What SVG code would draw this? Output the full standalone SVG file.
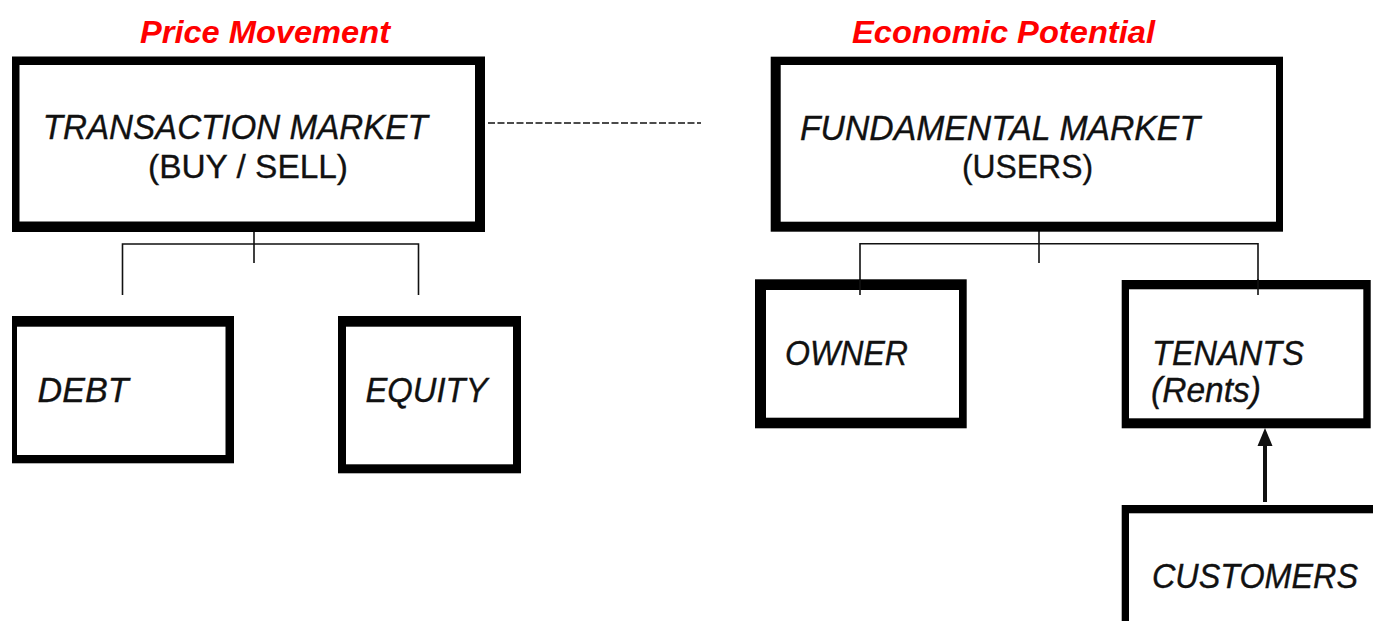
<svg xmlns="http://www.w3.org/2000/svg" width="1373" height="621" viewBox="0 0 1373 621">
  <style>
    .frame { fill: #000; }
    .inner { fill: #fff; }
    .head { font-family: "Liberation Sans", Arial, sans-serif; font-size: 32px; font-weight: bold; font-style: italic; fill: #f00; }
    .lbl { font-family: "Liberation Sans", Arial, sans-serif; font-size: 35px; font-style: italic; fill: #111; stroke: #111; stroke-width: 0.35; }
    .sub { font-family: "Liberation Sans", Arial, sans-serif; font-size: 34px; fill: #111; stroke: #111; stroke-width: 0.35; }
    .link { fill: none; stroke: #111; stroke-width: 1.6; }
    .dash { fill: none; stroke: #111; stroke-width: 1.6; stroke-dasharray: 7 2.5; }
    .arrow { fill: none; stroke: #111; stroke-width: 4; }
  </style>

  <rect x="0" y="0" width="1373" height="621" fill="#fff"/>

  <!-- section headings -->
  <text class="head" x="140" y="42.5" textLength="250" lengthAdjust="spacingAndGlyphs">Price Movement</text>
  <text class="head" x="852" y="42.5" textLength="303" lengthAdjust="spacingAndGlyphs">Economic Potential</text>

  <!-- connectors -->
  <g id="connectors">
    <line class="dash" x1="488" y1="123" x2="701" y2="123"/>
    <path class="link" d="M254,219 V263 M122.5,295 V244 H418.5 V295"/>
    <path class="link" d="M1039,188 V263 M860,295 V243.7 H1258 V295"/>
    <line class="arrow" x1="1265" y1="444" x2="1265" y2="502"/>
    <polygon points="1265,428 1257.5,446 1272.5,446" fill="#111"/>
  </g>

  <g id="transaction-market">
    <rect class="frame" x="12" y="56.5" width="473" height="175.5"/>
    <rect class="inner" x="19.5" y="65" width="455.5" height="156.5"/>
    <text class="lbl" x="42.7" y="139.3" textLength="385" lengthAdjust="spacingAndGlyphs">TRANSACTION MARKET</text>
    <text class="sub" x="148" y="178" textLength="200" lengthAdjust="spacingAndGlyphs">(BUY / SELL)</text>
  </g>

  <g id="fundamental-market">
    <rect class="frame" x="770.7" y="56.7" width="512.3" height="175"/>
    <rect class="inner" x="780.7" y="65" width="495.3" height="156.7"/>
    <text class="lbl" x="800" y="140" textLength="400" lengthAdjust="spacingAndGlyphs">FUNDAMENTAL MARKET</text>
    <text class="sub" x="962" y="178" textLength="131" lengthAdjust="spacingAndGlyphs">(USERS)</text>
  </g>

  <g id="debt">
    <rect class="frame" x="12" y="316" width="222" height="147.3"/>
    <rect class="inner" x="17" y="326.7" width="208.5" height="128.3"/>
    <text class="lbl" x="37.5" y="401.7" textLength="91" lengthAdjust="spacingAndGlyphs">DEBT</text>
  </g>

  <g id="equity">
    <rect class="frame" x="338" y="316" width="183" height="157.3"/>
    <rect class="inner" x="346" y="326.7" width="167" height="137.6"/>
    <text class="lbl" x="365.5" y="401.7" textLength="122" lengthAdjust="spacingAndGlyphs">EQUITY</text>
  </g>

  <g id="owner">
    <rect class="frame" x="755" y="279.3" width="211.7" height="149"/>
    <rect class="inner" x="766" y="290" width="193" height="127.7"/>
    <text class="lbl" x="785" y="365" textLength="123" lengthAdjust="spacingAndGlyphs">OWNER</text>
  </g>

  <g id="tenants">
    <rect class="frame" x="1121.7" y="280" width="249" height="148.3"/>
    <rect class="inner" x="1129" y="289.3" width="234.3" height="129"/>
    <text class="lbl" x="1152" y="365" textLength="152" lengthAdjust="spacingAndGlyphs">TENANTS</text>
    <text class="lbl" x="1151" y="401.7" textLength="110" lengthAdjust="spacingAndGlyphs">(Rents)</text>
  </g>

  <!-- the customers box runs past the right and bottom edges -->
  <g id="customers">
    <rect class="frame" x="1121.7" y="505" width="270" height="140"/>
    <rect class="inner" x="1129" y="513.3" width="262" height="131.7"/>
    <text class="lbl" x="1152" y="588.3" textLength="206" lengthAdjust="spacingAndGlyphs">CUSTOMERS</text>
  </g>

  <!-- branch ends drawn over the tops of the owner and tenants frames -->
  <path class="link" d="M860,279 V295 M1258,279 V295"/>
</svg>
